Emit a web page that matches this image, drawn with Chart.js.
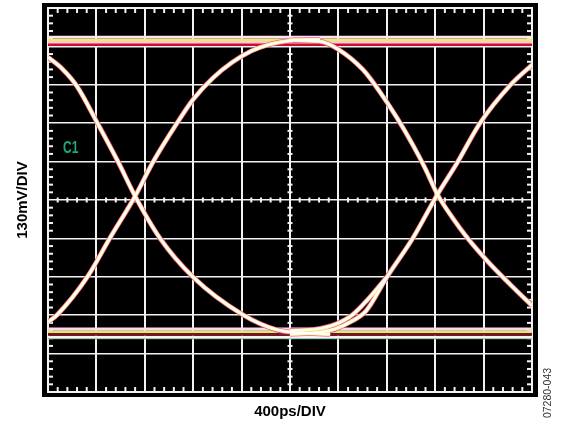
<!DOCTYPE html>
<html>
<head>
<meta charset="utf-8">
<script src="https://cdn.jsdelivr.net/npm/chart.js@4.4.1/dist/chart.umd.min.js"></script>
<style>
  html, body { margin: 0; padding: 0; background: #fff; }
  #wrap { position: relative; width: 566px; height: 427px; }
</style>
</head>
<body>
<div id="wrap"><canvas id="eyeChart"></canvas></div>
<script>
'use strict';
// Scope screen: 10 divisions each way (x = 400ps/div, y = 130mV/div)
const xRange = [0, 10];
const yRange = [0, 10];
const xTitle = '400ps/DIV';
const yTitle = '130mV/DIV';
const channelLabel = 'C1';
const figureCode = '07280-043';

// rails, in divisions (several passes stacked)
const topRail = [9.24, 9.17, 9.11, 9.05];
const bottomRail = [1.64, 1.57, 1.50, 1.43, 1.39];

// edges, [x, y] in divisions
const fallLeft = [
  [0, 8.72], [0.29, 8.42], [0.60, 7.96], [1.01, 7.03], [1.45, 5.99],
  [1.80, 5.10], [2.31, 4.01], [3.00, 2.99], [4.03, 2.01], [4.73, 1.62],
  [5.21, 1.54], [5.83, 1.51]
];
const riseLeft = [
  [0, 1.82], [0.19, 2.01], [0.81, 2.99], [1.28, 4.01], [1.80, 5.10],
  [2.17, 5.99], [2.67, 7.01], [3.00, 7.62], [3.40, 8.17], [3.80, 8.58],
  [4.20, 8.88], [4.60, 9.06], [5.00, 9.15], [5.62, 9.18]
];
const fallRight = [
  [5.00, 9.16], [5.62, 9.13], [5.99, 8.93], [6.51, 8.39], [6.86, 7.81],
  [7.21, 7.14], [7.54, 6.43], [7.79, 5.83], [8.04, 5.16], [8.35, 4.55],
  [8.66, 4.02], [9.10, 3.38], [9.55, 2.80], [10, 2.25]
];
const riseRight = [
  [5.00, 1.51], [5.52, 1.54], [5.93, 1.64], [6.24, 1.82], [6.57, 2.11],
  [7.00, 2.99], [7.54, 4.01], [8.04, 5.13], [8.45, 5.96], [8.93, 7.01],
  [9.55, 7.99], [10, 8.52]
];
const riseRightEarly = [
  [5.00, 1.60], [5.50, 1.63], [5.93, 1.76], [6.30, 2.02], [6.60, 2.40], [7.00, 2.99]
];

const topRailColors = ['#ffe4f2', '#f2ea6a', '#ffc6e6', '#c8102e'];
const bottomRailColors = ['#ffd6ee', '#d8ec70', '#7a1420', '#fff0f8', '#3aa860'];
const traceLayers = [
  { color: '#e23c9e', width: 5.0 },
  { color: '#f8f294', width: 3.8 },
  { color: '#ffffff', width: 2.0 }
];

function toPoints(pairs) {
  return pairs.map(function (p) { return { x: p[0], y: p[1] }; });
}

function flatLine(level) {
  return [{ x: xRange[0], y: level }, { x: xRange[1], y: level }];
}

const datasets = [];
topRail.forEach(function (level, i) {
  datasets.push({ data: flatLine(level), borderColor: topRailColors[i], borderWidth: 2.8, order: 10 });
});
bottomRail.forEach(function (level, i) {
  datasets.push({ data: flatLine(level), borderColor: bottomRailColors[i], borderWidth: i === 4 ? 1.2 : 2.8, order: 10 + i });
});
[fallLeft, riseLeft, fallRight, riseRight, riseRightEarly].forEach(function (edge) {
  traceLayers.forEach(function (layer, j) {
    datasets.push({
      data: toPoints(edge),
      borderColor: layer.color,
      borderWidth: layer.width,
      cubicInterpolationMode: 'monotone',
      order: 5 - j
    });
  });
});

const gridColor = '#f2f2f2';

// black bezel, white frame, minor ticks and screen labels
const scopeScreen = {
  id: 'scopeScreen',
  beforeDraw(chart) {
    const { ctx, chartArea: a } = chart;
    ctx.save();
    ctx.fillStyle = '#000';
    ctx.fillRect(a.left - 6, a.top - 5, a.width + 12, a.height + 10);
    ctx.restore();
  },
  beforeDatasetsDraw(chart) {
    const { ctx, chartArea: a, scales } = chart;
    const cx = scales.x.getPixelForValue(5);
    const cy = scales.y.getPixelForValue(5);
    ctx.save();
    ctx.strokeStyle = gridColor;
    ctx.lineWidth = 2;
    ctx.strokeRect(a.left, a.top, a.width, a.height);
    ctx.fillStyle = gridColor;
    for (let k = 1; k < 50; k++) {
      if (k % 5 === 0) continue;
      const px = scales.x.getPixelForValue(k / 5);
      ctx.fillRect(px - 1, a.top, 2, 5);
      ctx.fillRect(px - 1, a.bottom - 5, 2, 5);
      ctx.fillRect(px - 1, cy - 2.5, 2, 5);
      const py = scales.y.getPixelForValue(k / 5);
      ctx.fillRect(a.left, py - 1, 5, 2);
      ctx.fillRect(a.right - 5, py - 1, 5, 2);
      ctx.fillRect(cx - 2.5, py - 1, 5, 2);
    }
    ctx.restore();
  },
  afterDraw(chart) {
    const { ctx, scales } = chart;
    ctx.save();
    ctx.translate(scales.x.getPixelForValue(0.31), scales.y.getPixelForValue(6.33));
    ctx.scale(1, 1.3);
    ctx.fillStyle = '#1fa878';
    ctx.font = 'bold 12px "Liberation Sans", Arial, sans-serif';
    ctx.textBaseline = 'middle';
    ctx.fillText(channelLabel, 0, 0);
    ctx.restore();

    ctx.save();
    ctx.translate(chart.width - 15, chart.height - 34);
    ctx.rotate(-Math.PI / 2);
    ctx.fillStyle = '#333';
    ctx.font = '10.5px "Liberation Sans", Arial, sans-serif';
    ctx.textAlign = 'center';
    ctx.fillText(figureCode, 0, 0);
    ctx.restore();
  }
};

const titleFont = { family: '"Liberation Sans", Arial, sans-serif', size: 15, weight: 'bold' };

new Chart(document.getElementById('eyeChart'), {
  type: 'line',
  data: { datasets: datasets },
  options: {
    responsive: true,
    maintainAspectRatio: false,
    animation: false,
    events: [],
    layout: { padding: { left: 0, right: 34, top: 8, bottom: 0 } },
    elements: { point: { radius: 0 }, line: { fill: false } },
    plugins: { legend: { display: false }, tooltip: { enabled: false } },
    scales: {
      x: {
        type: 'linear',
        min: xRange[0],
        max: xRange[1],
        border: { display: false },
        grid: { color: gridColor, lineWidth: 2, drawTicks: false },
        ticks: { display: false, stepSize: 1 },
        title: { display: true, text: xTitle, color: '#000', font: titleFont, padding: { top: 11, bottom: 6 } }
      },
      y: {
        type: 'linear',
        min: yRange[0],
        max: yRange[1],
        border: { display: false },
        grid: { color: gridColor, lineWidth: 1.5, drawTicks: false },
        ticks: { display: false, stepSize: 1 },
        title: { display: true, text: yTitle, color: '#000', font: titleFont, padding: { top: 13.5, bottom: 16.5 } }
      }
    }
  },
  plugins: [scopeScreen]
});
</script>
</body>
</html>
